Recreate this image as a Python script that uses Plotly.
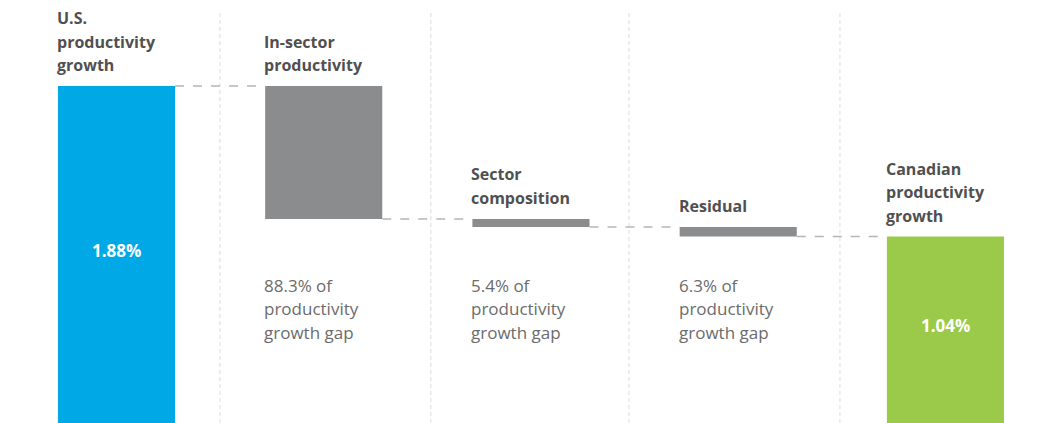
import plotly.graph_objects as go

# Productivity growth bridge: U.S. -> Canada
stages = ["U.S. productivity growth", "In-sector productivity", "Sector composition",
          "Residual", "Canadian productivity growth"]
header_lines = [["U.S.", "productivity", "growth"],
                ["In-sector", "productivity"],
                ["Sector", "composition"],
                ["Residual"],
                ["Canadian", "productivity", "growth"]]
us_growth = 1.88
canada_growth = 1.04
gap_shares = [88.3, 5.4, 6.3]          # % of productivity growth gap
share_label_lines = ["{:.1f}% of", "productivity", "growth gap"]

BLUE = "#00A9E6"
GREY = "#8B8C8E"
GREEN = "#9BCA4B"
HEAD = "#505050"
BODY = "#6B6B6B"

gap = us_growth - canada_growth
steps = [gap * s / 100 for s in gap_shares]

# bar tops / bases
bases, heights, colors = [0.0], [us_growth], [BLUE]
level = us_growth
for d in steps:
    level -= d
    bases.append(level)
    heights.append(d)
    colors.append(GREY)
bases.append(0.0)
heights.append(canada_growth)
colors.append(GREEN)
tops = [b + h for b, h in zip(bases, heights)]

x = list(range(len(stages)))
BW = 0.565

fig = go.Figure(go.Bar(x=x, y=heights, base=bases, width=BW,
                       marker=dict(color=colors, line=dict(width=0)),
                       hoverinfo="skip"))

shapes = []
# vertical separators between columns
for xs in [0.499, 1.517, 2.473, 3.491]:
    shapes.append(dict(type="line", xref="x", yref="paper", x0=xs, x1=xs, y0=0, y1=0.974,
                       line=dict(color="#DCDCDC", width=1, dash="4px,3px"), layer="below"))
# dashed connectors from each bar's lower edge to the next bar
levels = [tops[0]] + bases[1:4]
for i in range(len(stages) - 1):
    shapes.append(dict(type="line", xref="x", yref="y",
                       x0=i + BW / 2, x1=i + 1 - BW / 2, y0=levels[i], y1=levels[i],
                       line=dict(color="#B5B5B5", width=1.5, dash="dash")))

annotations = []
FONT = "Open Sans"
# column headers above each bar
for i, lines in enumerate(header_lines):
    n = len(lines)
    for k, t in enumerate(lines):
        annotations.append(dict(x=i - BW / 2, y=tops[i], xref="x", yref="y", text=t,
                                showarrow=False, xanchor="left", yanchor="middle",
                                xshift=-3, yshift=21 + 23.5 * (n - 1 - k),
                                font=dict(family=FONT, size=16, color=HEAD, weight="bold")))
# share of gap under the middle bars
for j, s in enumerate(gap_shares):
    for k, t in enumerate(share_label_lines):
        annotations.append(dict(x=j + 1 - BW / 2, y=0.326, xref="x", yref="paper",
                                text=t.format(s) if k == 0 else t,
                                showarrow=False, xanchor="left", yanchor="middle",
                                xshift=-3, yshift=-23.5 * k,
                                font=dict(family=FONT, size=17, color=BODY)))
# values inside the end bars
for i, v in [(0, us_growth), (4, canada_growth)]:
    annotations.append(dict(x=i, y=v / 2, xref="x", yref="y", text=f"{v:.2f}%",
                            showarrow=False, xanchor="center", yanchor="middle", yshift=4,
                            font=dict(family=FONT, size=17, color="white", weight="bold")))

fig.update_layout(
    width=1047, height=423,
    margin=dict(l=0, r=0, t=0, b=0),
    plot_bgcolor="white", paper_bgcolor="white",
    showlegend=False,
    xaxis=dict(range=[-0.562, 4.490], visible=False, fixedrange=True),
    yaxis=dict(range=[0, 2.36], visible=False, fixedrange=True),
    shapes=shapes, annotations=annotations,
)

fig.write_html("out.html")
